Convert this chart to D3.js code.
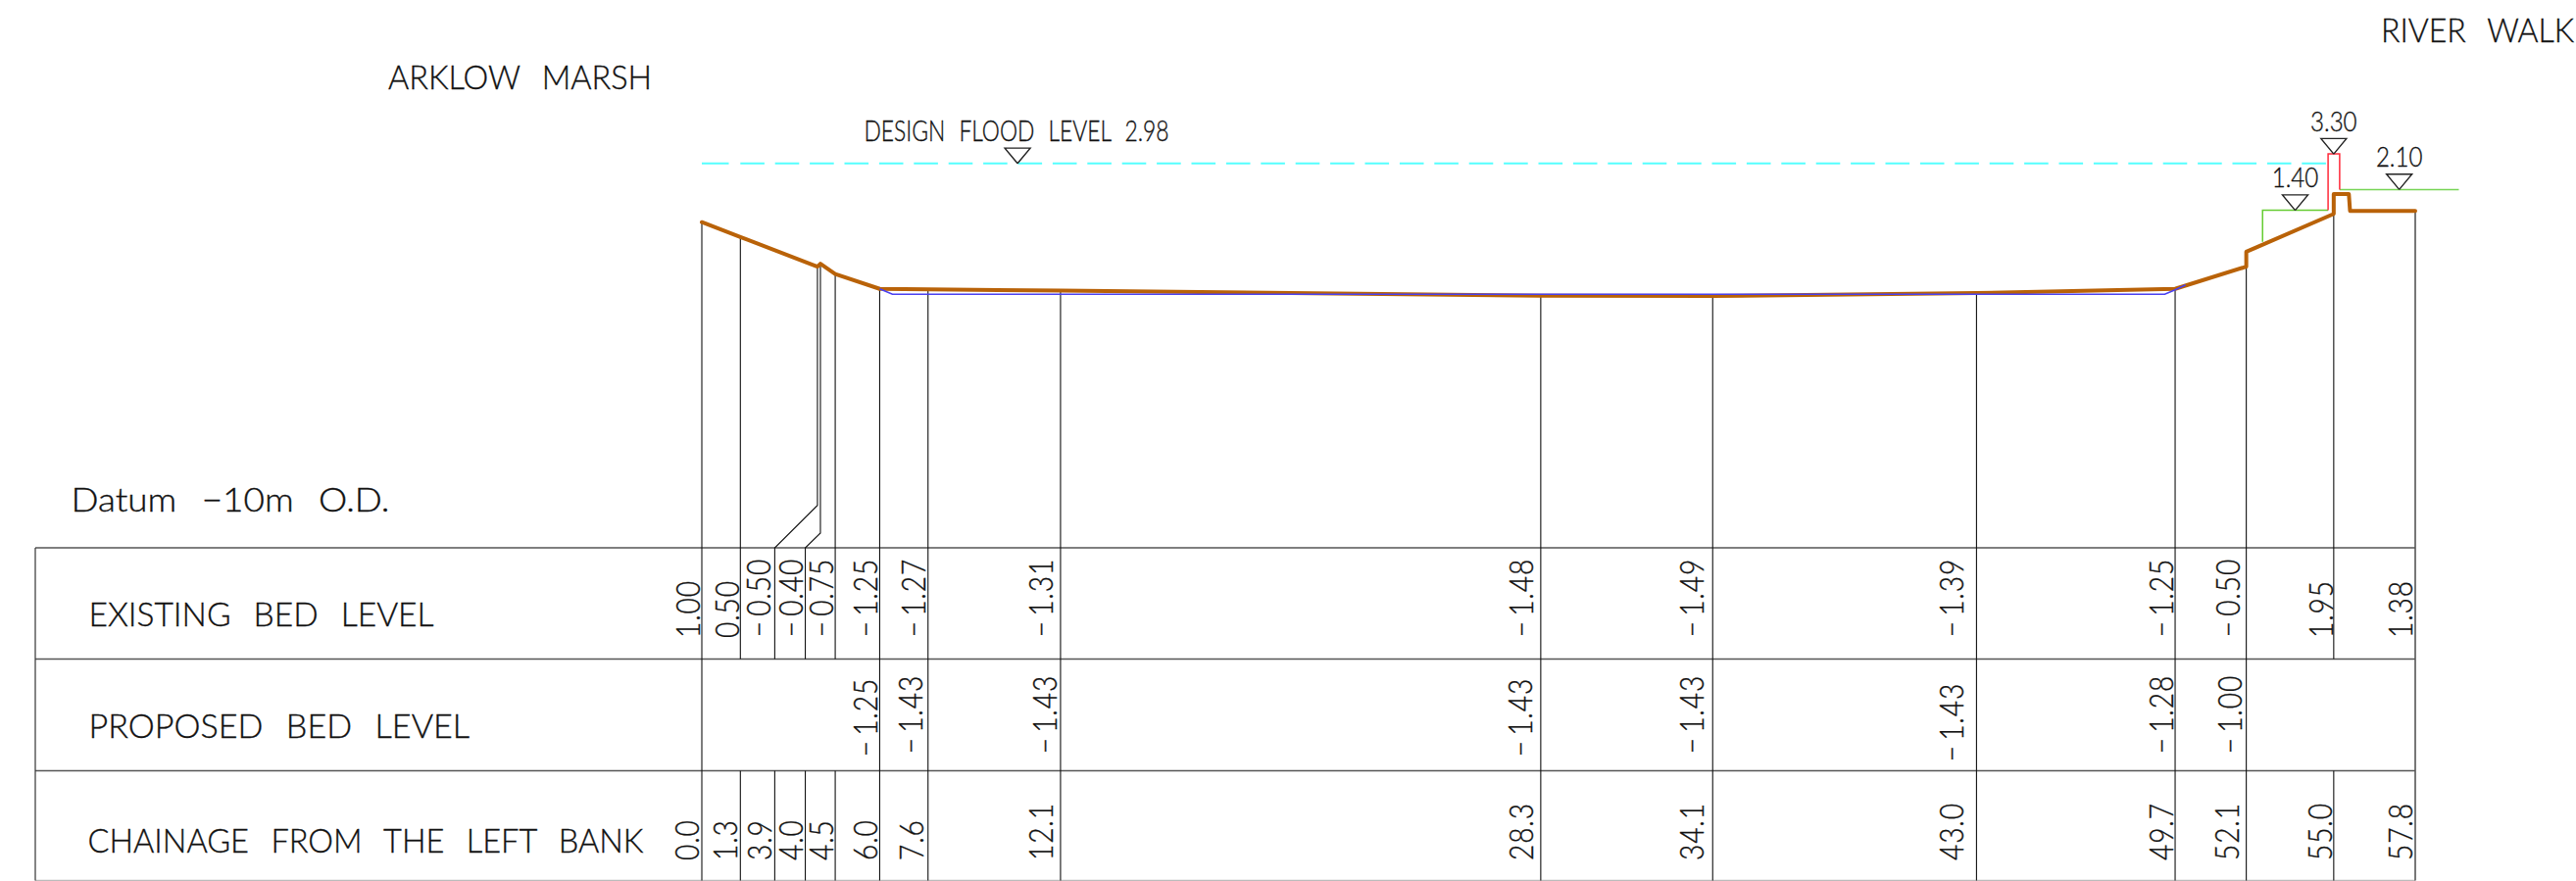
<!DOCTYPE html>
<html>
<head>
<meta charset="utf-8">
<script src="https://cdn.jsdelivr.net/npm/d3@7/dist/d3.min.js"></script>
<style>
html, body { margin: 0; padding: 0; background: #fff; overflow: hidden; }
text { font-family: "Lato", "Liberation Sans Narrow", sans-serif; font-weight: 300; fill: #111; stroke: #111; stroke-width: 0.35; }
</style>
</head>
<body>
<svg></svg>
<script>
const [svgWidth, svgHeight] = [2628, 899];

// survey stations along the section (m from the left bank)
const chainage = [0.0, 1.3, 3.9, 4.0, 4.5, 6.0, 7.63, 12.1, 28.3, 34.1, 43.0, 49.7, 52.1, 55.05, 57.8];
const chainageText = ['0.0', '1.3', '3.9', '4.0', '4.5', '6.0', '7.6', '12.1', '28.3', '34.1', '43.0', '49.7', '52.1', '55.0', '57.8'];
const existingLevel = [1.00, 0.50, -0.50, -0.40, -0.75, -1.25, -1.27, -1.31, -1.48, -1.49, -1.39, -1.25, -0.50, 1.95, 1.38];
// proposed level is only given from station index 5 to 12
const proposedLevel = [null, null, null, null, null, -1.25, -1.43, -1.43, -1.43, -1.43, -1.43, -1.28, -1.00, null, null];

// thick ground line
const groundChainage = [0.0, 1.3, 3.9, 4.0, 4.5, 6.0, 7.63, 12.1, 28.3, 34.1, 43.0, 49.7, 52.1, 52.1, 55.05, 55.05, 55.56, 55.6, 57.8];
const groundLevel = [1.00, 0.50, -0.50, -0.40, -0.75, -1.25, -1.27, -1.31, -1.48, -1.49, -1.39, -1.25, -0.50, 0.00, 1.28, 1.95, 1.95, 1.38, 1.38];

// blue dredged bed line
const bedChainage = [6.0, 6.43, 49.35, 49.7, 50.05];
const bedLevel = [-1.25, -1.43, -1.43, -1.28, -1.12];

// flood wall and tie-in levels
const floodChainage = [0, 54.86];
const floodLevel = [2.98, 2.98];
const greenLeftChainage = [52.65, 52.65, 54.86];
const greenLeftLevel = [0.34, 1.40, 1.40];
const wallChainage = [54.86, 54.86, 55.25, 55.25];
const wallLevel = [1.40, 3.30, 3.30, 2.10];
const greenRightChainage = [55.25, 59.27];
const greenRightLevel = [2.10, 2.10];

const markerChainage = [10.65, 53.75, 55.05, 57.26];
const markerLevel = [2.98, 1.40, 3.30, 2.10];
const markerText = ['', '1.40', '3.30', '2.10'];

// where the 3.9 and 4.0 stations land in the table (leaders spread them out)
const footChainage = [0.0, 1.3, 2.46, 3.49, 4.5, 6.0, 7.63, 12.1, 28.3, 34.1, 43.0, 49.7, 52.1, 55.05, 57.8];

const rowNames = ['EXISTING BED LEVEL', 'PROPOSED BED LEVEL', 'CHAINAGE FROM THE LEFT BANK'];

// layout
const rowLines = [559, 672.5, 786.5, 898.5];
const tableLeft = 36;
const gapExisting = [2, 1.5, 4.8, 2.9, 2, 2, 2.5, 8, 7.6, 8.9, 13.1, 2.2, 6.6, 1, 3];
const gapProposed = [0, 0, 0, 0, 0, 2, 6, 4.2, 9, 8.9, 13.1, 2.2, 4.6, 0, 0];
const gapChainage = [3.3, 3.5, 3.5, 2.9, 2, 2, 4.6, 7.7, 7.6, 8.9, 13.1, 2.2, 7.6, 1.5, 3];
const startProposed = [0, 0, 0, 0, 0, 773, 770, 770, 773, 770, 778, 770, 770, 0, 0];
const capSize = 33.5; // font size giving the 24px capitals
const narrow = 0.84;

const x = d3.scaleLinear().domain([0, 57.8]).range([716, 2464]);
const y = d3.scaleLinear().domain([1, 2.98]).range([226.7, 166.8]);

const svg = d3.select('svg')
    .attr('width', svgWidth)
    .attr('height', svgHeight)
    .style('display', 'block');

const zip = (xs, ys) => xs.map((d, i) => [d, ys[i]]);
const levelLine = d3.line().x(d => x(d[0])).y(d => y(d[1]));

function polyline(pts, color, width) {
    return svg.append('path')
        .attr('d', d3.line()(pts))
        .attr('fill', 'none')
        .attr('stroke', color)
        .attr('stroke-width', width);
}

function levelPath(xs, ys, color, width) {
    return svg.append('path')
        .datum(zip(xs, ys))
        .attr('d', levelLine)
        .attr('fill', 'none')
        .attr('stroke', color)
        .attr('stroke-width', width);
}

// horizontal caption with known extent
function caption(str, left, baseline, size, length, wordGap) {
    svg.append('text')
        .attr('x', left)
        .attr('y', baseline)
        .attr('font-size', size)
        .attr('word-spacing', wordGap)
        .attr('textLength', length)
        .attr('lengthAdjust', 'spacingAndGlyphs')
        .text(str);
}

// value written upward with its baseline against a table line
function upright(str, px, start) {
    const t = svg.append('text')
        .attr('transform', `translate(${[px, start]}) rotate(-90) scale(${narrow},1)`)
        .attr('font-size', capSize)
        .attr('letter-spacing', 1);
    if (str[0] === '−') {
        // the drawing's minus sign is longer and set apart
        t.append('tspan').attr('dx', 1).text('−');
        t.append('tspan').attr('dx', 5).text(str.slice(1));
    } else {
        t.text(str);
    }
}

// table frame
const lineColor = '#111';
rowLines.forEach((ry, i) => {
    polyline([[tableLeft, ry], [x(57.8), ry]], i === 3 ? '#bbb' : '#555', 1.5);
});
polyline([[tableLeft, rowLines[0]], [tableLeft, rowLines[3]]], '#333', 1.2);

// station lines
chainage.forEach((c, i) => {
    const top = y(existingLevel[i]);
    const fx = x(footChainage[i]);
    const color = i === 14 ? '#555' : lineColor;
    const width = i === 14 ? 1.6 : 1.1;
    if (i === 13) {
        polyline([[x(c), y(1.28)], [x(c), rowLines[1]]], color, width);
        polyline([[x(c), rowLines[2]], [x(c), rowLines[3]]], color, width);
    } else if (i === 2 || i === 3) {
        const knee = i === 2 ? 515.7 : 544;
        polyline([[x(c), top], [x(c), knee], [fx, rowLines[0]], [fx, rowLines[1]]], color, width);
        polyline([[fx, rowLines[2]], [fx, rowLines[3]]], color, width);
    } else if (i === 1 || i === 4) {
        polyline([[x(c), top], [x(c), rowLines[1]]], color, width);
        polyline([[x(c), rowLines[2]], [x(c), rowLines[3]]], color, width);
    } else {
        polyline([[x(c), top], [x(c), rowLines[3]]], color, width);
    }
});

// flood level, dashes phased so they sit on the reference ones
levelPath(floodChainage, floodLevel, '#55ffff', 2)
    .attr('stroke-dasharray', '27.5 11.8 24.6 10.8 ' + d3.range(50).map(() => '24.6 10.8').join(' '));

levelPath(greenLeftChainage, greenLeftLevel, '#66cc33', 1.5);
levelPath(greenRightChainage, greenRightLevel, '#77d455', 1.5);
levelPath(wallChainage, wallLevel, '#ff2a3a', 1.5);

levelPath(groundChainage, groundLevel, '#b96208', 4)
    .attr('stroke-linejoin', 'round')
    .attr('stroke-linecap', 'round');
levelPath(bedChainage, bedLevel, '#4a40f0', 1.6);

// level markers
markerChainage.forEach((c, i) => {
    const ax = x(c);
    const ay = y(markerLevel[i]);
    polyline([[ax, ay], [ax - 13, ay - 15.7], [ax + 13, ay - 15.7], [ax, ay]], '#222', 1.4)
        .attr('stroke-linejoin', 'miter');
    if (markerText[i]) {
        svg.append('text')
            .attr('x', ax)
            .attr('y', ay - 23.5)
            .attr('text-anchor', 'middle')
            .attr('font-size', 27)
            .attr('textLength', 47.5)
            .attr('lengthAdjust', 'spacingAndGlyphs')
            .text(markerText[i]);
    }
});

// captions
caption('ARKLOW MARSH', 396, 91, capSize, 269, 14);
caption('RIVER WALK', 2429, 43.3, capSize, 197, 14);
caption('DESIGN FLOOD LEVEL 2.98', 881.5, 144, 28.5, 311, 10);
caption('Datum −10m O.D.', 72.5, 522.3, capSize, 325, 14);
caption(rowNames[0], 90.5, 639.3, capSize, 352, 14);
caption(rowNames[1], 90.5, 753.3, capSize, 388.5, 14);
caption(rowNames[2], 89.5, 870, capSize, 567, 14);

// table values
const fmt2 = d3.format('.2f');
existingLevel.forEach((v, i) => {
    upright(fmt2(v), x(footChainage[i]) - gapExisting[i], 651);
});
proposedLevel.forEach((v, i) => {
    if (v !== null) upright(fmt2(v), x(footChainage[i]) - gapProposed[i], startProposed[i]);
});
chainageText.forEach((s, i) => {
    upright(s, x(footChainage[i]) - gapChainage[i], 878);
});
</script>
</body>
</html>
